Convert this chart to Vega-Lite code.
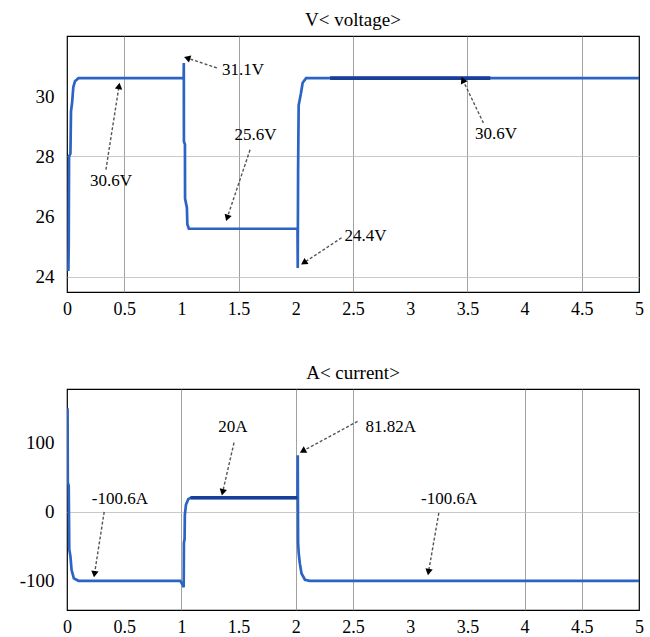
{
  "$schema": "https://vega.github.io/schema/vega-lite/v6.json",
  "padding": {"left": 18, "top": 10, "right": 8, "bottom": 0},
  "background": "white",
  "spacing": 44,
  "config": {
    "view": {"stroke": "black", "strokeWidth": 1.2},
    "axis": {"domain": false, "ticks": false, "labelFont": "Liberation Serif, Times New Roman, DejaVu Serif, serif", "labelFontSize": 18, "labelColor": "black", "title": null, "gridColor": "#8a8a8a", "gridWidth": 1},
    "title": {"font": "Liberation Serif, Times New Roman, DejaVu Serif, serif", "fontSize": 19, "fontWeight": "normal", "color": "black", "offset": 6}
  },
  "datasets": {
    "volt": [
      {"t": 0.012, "v": 24.2, "s": "main"}, {"t": 0.015, "v": 25.0, "s": "main"}, {"t": 0.018, "v": 28.0, "s": "main"},
      {"t": 0.03, "v": 28.1, "s": "main"}, {"t": 0.035, "v": 29.5, "s": "main"}, {"t": 0.045, "v": 29.8, "s": "main"},
      {"t": 0.055, "v": 30.3, "s": "main"}, {"t": 0.07, "v": 30.5, "s": "main"}, {"t": 0.1, "v": 30.6, "s": "main"},
      {"t": 1.02, "v": 30.6, "s": "main"}, {"t": 1.021, "v": 31.1, "s": "main"}, {"t": 1.022, "v": 28.5, "s": "main"},
      {"t": 1.031, "v": 28.4, "s": "main"}, {"t": 1.032, "v": 26.6, "s": "main"}, {"t": 1.048, "v": 26.3, "s": "main"},
      {"t": 1.052, "v": 25.75, "s": "main"}, {"t": 1.065, "v": 25.6, "s": "main"}, {"t": 2.015, "v": 25.6, "s": "main"},
      {"t": 2.017, "v": 24.3, "s": "main"}, {"t": 2.02, "v": 27.5, "s": "main"}, {"t": 2.025, "v": 29.7, "s": "main"},
      {"t": 2.045, "v": 30.1, "s": "main"}, {"t": 2.06, "v": 30.45, "s": "main"}, {"t": 2.09, "v": 30.6, "s": "main"},
      {"t": 5.0, "v": 30.6, "s": "main"},
      {"t": 2.3, "v": 30.6, "s": "dark"}, {"t": 3.7, "v": 30.6, "s": "dark"}
    ],
    "voltArrows": [
      {"t": 0.34, "v": 27.56, "t2": 0.455, "v2": 30.34},
      {"t": 1.31, "v": 30.94, "t2": 1.05, "v2": 31.27},
      {"t": 1.60, "v": 28.22, "t2": 1.40, "v2": 25.96},
      {"t": 2.40, "v": 25.30, "t2": 2.07, "v2": 24.47},
      {"t": 3.64, "v": 29.11, "t2": 3.46, "v2": 30.54}
    ],
    "voltLabels": [
      {"t": 0.385, "v": 27.19, "label": "30.6V"},
      {"t": 1.538, "v": 30.87, "label": "31.1V"},
      {"t": 1.648, "v": 28.72, "label": "25.6V"},
      {"t": 2.61, "v": 25.37, "label": "24.4V"},
      {"t": 3.75, "v": 28.75, "label": "30.6V"}
    ],
    "curr": [
      {"t": 0.005, "a": 150, "s": "main"}, {"t": 0.007, "a": 42, "s": "main"}, {"t": 0.015, "a": 38, "s": "main"},
      {"t": 0.02, "a": -55, "s": "main"}, {"t": 0.03, "a": -65, "s": "main"}, {"t": 0.04, "a": -85, "s": "main"},
      {"t": 0.06, "a": -97, "s": "main"}, {"t": 0.1, "a": -100.6, "s": "main"}, {"t": 0.99, "a": -100.6, "s": "main"},
      {"t": 1.01, "a": -106, "s": "main"}, {"t": 1.02, "a": -110, "s": "main"}, {"t": 1.022, "a": -45, "s": "main"},
      {"t": 1.028, "a": -40, "s": "main"}, {"t": 1.03, "a": -5, "s": "main"}, {"t": 1.04, "a": 10, "s": "main"},
      {"t": 1.06, "a": 18, "s": "main"}, {"t": 1.08, "a": 20, "s": "main"}, {"t": 2.015, "a": 20, "s": "main"},
      {"t": 2.017, "a": 81.82, "s": "main"}, {"t": 2.02, "a": -45, "s": "main"}, {"t": 2.025, "a": -60, "s": "main"},
      {"t": 2.035, "a": -75, "s": "main"}, {"t": 2.05, "a": -90, "s": "main"}, {"t": 2.08, "a": -99, "s": "main"},
      {"t": 2.12, "a": -100.6, "s": "main"}, {"t": 5.0, "a": -100.6, "s": "main"},
      {"t": 1.08, "a": 20, "s": "dark"}, {"t": 2.015, "a": 20, "s": "dark"}
    ],
    "currArrows": [
      {"t": 0.325, "a": -0.4, "t2": 0.24, "a2": -91},
      {"t": 1.46, "a": 100, "t2": 1.36, "a2": 28},
      {"t": 2.54, "a": 131, "t2": 2.06, "a2": 87.8},
      {"t": 3.25, "a": -2, "t2": 3.16, "a2": -88}
    ],
    "currLabels": [
      {"t": 0.463, "a": 18.3, "label": "-100.6A"},
      {"t": 1.45, "a": 123, "label": "20A"},
      {"t": 2.83, "a": 123, "label": "81.82A"},
      {"t": 3.34, "a": 18.3, "label": "-100.6A"}
    ]
  },
  "vconcat": [
    {
      "title": "V< voltage>",
      "width": 572,
      "height": 256,
      "encoding": {
        "x": {"field": "t", "type": "quantitative", "scale": {"domain": [0, 5], "nice": false},
          "axis": {"values": [0, 0.5, 1, 1.5, 2, 2.5, 3, 3.5, 4, 4.5, 5], "format": "~g", "labelPadding": 8, "labelFlush": false,
            "gridOpacity": {"condition": {"test": "datum.value % 1 == 0", "value": 0}, "value": 0.8}}}
      },
      "layer": [
        {
          "data": {"name": "volt"},
          "mark": {"type": "line", "strokeWidth": 2.7, "clip": true},
          "encoding": {
            "y": {"field": "v", "type": "quantitative", "scale": {"domain": [23.5, 32], "nice": false, "zero": false},
              "axis": {"values": [24, 26, 28, 30], "labelExpr": "'' + datum.value", "labelPadding": 13, "labelFontSize": 19,
                "gridColor": "#bbbbbb", "gridOpacity": {"condition": {"test": "datum.value == 24 || datum.value == 28", "value": 0.8}, "value": 0}}},
            "detail": {"field": "s"},
            "color": {"field": "s", "type": "nominal", "scale": {"domain": ["main", "dark"], "range": ["#2b64c4", "#1a3f9a"]}, "legend": null},
            "size": {"field": "s", "type": "nominal", "scale": {"domain": ["main", "dark"], "range": [2.7, 3.6]}, "legend": null}
          }
        },
        {
          "data": {"name": "voltArrows"},
          "mark": {"type": "rule", "strokeDash": [3, 2], "color": "#555555", "strokeWidth": 1.4},
          "encoding": {
            "y": {"field": "v", "type": "quantitative"},
            "x2": {"field": "t2"},
            "y2": {"field": "v2"}
          }
        },
        {
          "data": {"name": "voltArrows"},
          "transform": [{"calculate": "atan2((datum.t2 - datum.t) * 114.4, (datum.v2 - datum.v) * 30.15) * 180 / PI", "as": "ang"}],
          "mark": {"type": "point", "shape": "triangle-up", "filled": true, "color": "black", "size": 55, "opacity": 1},
          "encoding": {
            "x": {"field": "t2", "type": "quantitative"},
            "y": {"field": "v2", "type": "quantitative"},
            "angle": {"field": "ang", "type": "quantitative", "scale": {"domain": [-360, 360], "range": [-360, 360]}}
          }
        },
        {
          "data": {"name": "voltLabels"},
          "mark": {"type": "text", "font": "Liberation Serif, Times New Roman, DejaVu Serif, serif", "fontSize": 17, "color": "black", "align": "center", "baseline": "middle"},
          "encoding": {
            "y": {"field": "v", "type": "quantitative"},
            "text": {"field": "label"}
          }
        }
      ]
    },
    {
      "title": "A< current>",
      "width": 572,
      "height": 221,
      "encoding": {
        "x": {"field": "t", "type": "quantitative", "scale": {"domain": [0, 5], "nice": false},
          "axis": {"values": [0, 0.5, 1, 1.5, 2, 2.5, 3, 3.5, 4, 4.5, 5], "format": "~g", "labelPadding": 8, "labelFlush": false,
            "gridOpacity": {"condition": {"test": "indexof([1, 2, 2.5, 4, 4.5], datum.value) >= 0", "value": 0.8}, "value": 0}}}
      },
      "layer": [
        {
          "data": {"name": "curr"},
          "mark": {"type": "line", "strokeWidth": 2.7, "clip": true},
          "encoding": {
            "y": {"field": "a", "type": "quantitative", "scale": {"domain": [-143, 178], "nice": false, "zero": false},
              "axis": {"values": [-100, 0, 100], "labelExpr": "'' + datum.value", "labelPadding": 13, "labelFontSize": 19,
                "gridColor": "#bbbbbb", "gridOpacity": {"condition": {"test": "datum.value == 0", "value": 0.8}, "value": 0}}},
            "detail": {"field": "s"},
            "color": {"field": "s", "type": "nominal", "scale": {"domain": ["main", "dark"], "range": ["#2b64c4", "#1a3f9a"]}, "legend": null},
            "size": {"field": "s", "type": "nominal", "scale": {"domain": ["main", "dark"], "range": [2.7, 3.6]}, "legend": null}
          }
        },
        {
          "data": {"name": "currArrows"},
          "mark": {"type": "rule", "strokeDash": [3, 2], "color": "#555555", "strokeWidth": 1.4},
          "encoding": {
            "y": {"field": "a", "type": "quantitative"},
            "x2": {"field": "t2"},
            "y2": {"field": "a2"}
          }
        },
        {
          "data": {"name": "currArrows"},
          "transform": [{"calculate": "atan2((datum.t2 - datum.t) * 114.4, (datum.a2 - datum.a) * 0.69) * 180 / PI", "as": "ang"}],
          "mark": {"type": "point", "shape": "triangle-up", "filled": true, "color": "black", "size": 55, "opacity": 1},
          "encoding": {
            "x": {"field": "t2", "type": "quantitative"},
            "y": {"field": "a2", "type": "quantitative"},
            "angle": {"field": "ang", "type": "quantitative", "scale": {"domain": [-360, 360], "range": [-360, 360]}}
          }
        },
        {
          "data": {"name": "currLabels"},
          "mark": {"type": "text", "font": "Liberation Serif, Times New Roman, DejaVu Serif, serif", "fontSize": 17, "color": "black", "align": "center", "baseline": "middle"},
          "encoding": {
            "y": {"field": "a", "type": "quantitative"},
            "text": {"field": "label"}
          }
        }
      ]
    }
  ]
}
